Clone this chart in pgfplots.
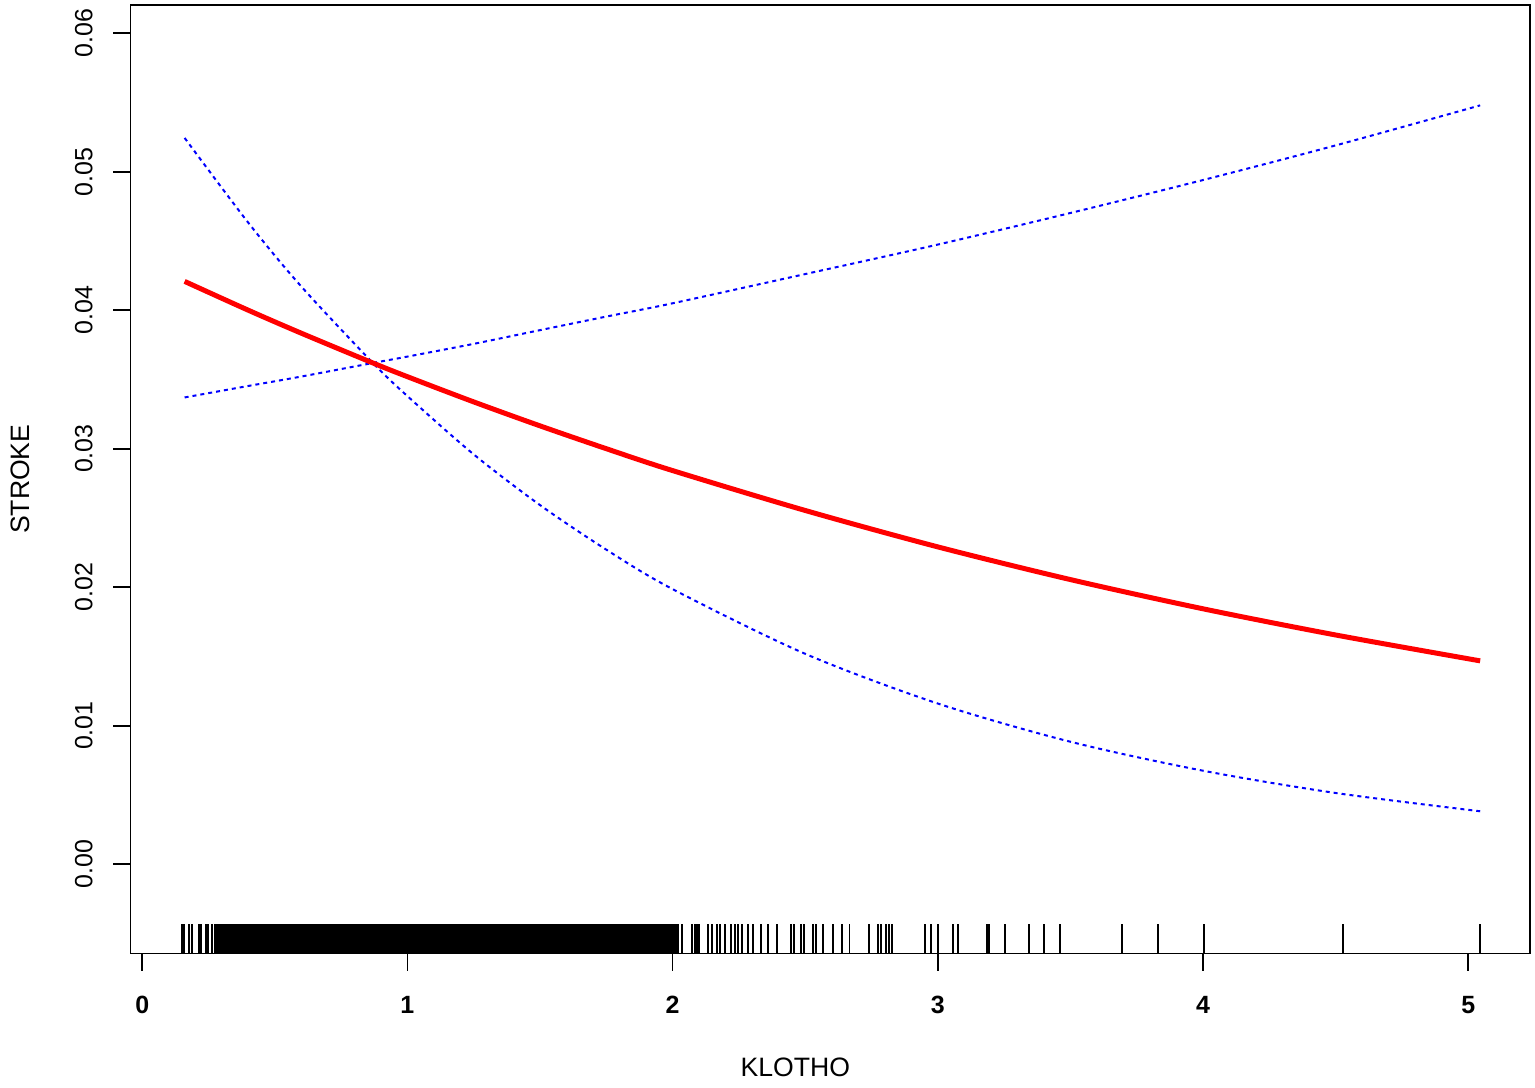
\documentclass[border=0pt]{standalone}
\usepackage{fontspec}
\setmainfont{Liberation Sans}
\usepackage{pgfplots}
\usepackage{pgfplotstable}
\pgfplotsset{compat=1.18}
\usetikzlibrary{calc}

% fitted risk and the two dotted confidence bounds
\pgfplotstableread{
x     fit      rise     fall
0.16  0.04208  0.03370  0.05244
0.40  0.04000  0.03453  0.04632
0.60  0.03834  0.03521  0.04171
0.87  0.03619  0.03619  0.03619
1.00  0.03520  0.03665  0.03380
1.25  0.03338  0.03757  0.02959
1.50  0.03165  0.03856  0.02593
1.75  0.03000  0.03954  0.02271
2.00  0.02842  0.04050  0.01986
2.50  0.02554  0.04261  0.01519
3.00  0.02291  0.04474  0.01160
3.50  0.02055  0.04702  0.00884
4.00  0.01844  0.04940  0.00675
4.50  0.01655  0.05190  0.00514
5.045 0.01468  0.05479  0.00382
}\curves

% rug: single observations outside the dense band
\pgfplotstableread{
x      y
0.151 -0.0054
0.158 -0.0054
0.177 -0.0054
0.188 -0.0054
0.215 -0.0054
0.222 -0.0054
0.241 -0.0054
0.249 -0.0054
0.264 -0.0054
2.021 -0.0054
2.034 -0.0054
2.072 -0.0054
2.083 -0.0054
2.092 -0.0054
2.100 -0.0054
2.134 -0.0054
2.147 -0.0054
2.166 -0.0054
2.180 -0.0054
2.196 -0.0054
2.222 -0.0054
2.234 -0.0054
2.247 -0.0054
2.260 -0.0054
2.286 -0.0054
2.305 -0.0054
2.335 -0.0054
2.360 -0.0054
2.392 -0.0054
2.445 -0.0054
2.458 -0.0054
2.486 -0.0054
2.497 -0.0054
2.531 -0.0054
2.542 -0.0054
2.568 -0.0054
2.605 -0.0054
2.637 -0.0054
2.667 -0.0054
2.742 -0.0054
2.775 -0.0054
2.787 -0.0054
2.806 -0.0054
2.817 -0.0054
2.827 -0.0054
2.950 -0.0054
2.975 -0.0054
3.000 -0.0054
3.057 -0.0054
3.076 -0.0054
3.187 -0.0054
3.193 -0.0054
3.252 -0.0054
3.343 -0.0054
3.402 -0.0054
3.461 -0.0054
3.695 -0.0054
3.829 -0.0054
4.005 -0.0054
4.526 -0.0054
5.045 -0.0054
}\rug

\begin{document}
\begin{tikzpicture}
\begin{axis}[
  name=ax, scale only axis, width=420.5pt, height=285pt,
  xmin=-0.044, xmax=5.233, ymin=-0.00645, ymax=0.06204,
  axis line style={line width=0.5pt},
  xtick={0,1,2,3,4,5}, ytick={0,0.01,0.02,0.03,0.04,0.05,0.06},
  xtick pos=bottom, ytick pos=left, tick align=outside,
  major tick length=5.2pt, tick style={line width=0.5pt,black},
  scaled y ticks=false,
  /pgf/number format/assume math mode=true,
  xticklabel style={yshift=-7.4pt, inner sep=0pt, anchor=north,
    font=\bfseries\fontsize{7.5}{9}\selectfont},
  yticklabel style={xshift=-6pt, rotate=90, anchor=south, inner sep=0pt,
    font=\fontsize{7.5}{9}\selectfont,
    /pgf/number format/fixed, /pgf/number format/fixed zerofill,
    /pgf/number format/precision=2},
  xlabel={KLOTHO},
  xlabel style={at={($(axis description cs:0.475,0)+(0,-36.9pt)$)}, anchor=base,
    font=\fontsize{8}{10}\selectfont},
  ylabel={STROKE},
  ylabel style={at={($(axis description cs:0,0.5)+(-30.3pt,0)$)}, anchor=base,
    font=\fontsize{8}{10}\selectfont},
]
\addplot[fill=black, draw=none] coordinates {(0.271,-0.00645) (2.015,-0.00645) (2.015,-0.00434) (0.271,-0.00434)} -- cycle;
\addplot[only marks, mark=|, mark size=4.4pt, mark options={line width=0.6pt, black}] table[x=x,y=y] \rug;
\addplot[blue, line width=0.6pt, dash pattern=on 1.2pt off 1.2pt, smooth] table[x=x,y=rise] \curves;
\addplot[blue, line width=0.6pt, dash pattern=on 1.2pt off 1.2pt, smooth] table[x=x,y=fall] \curves;
\addplot[red, line width=1.5pt, smooth] table[x=x,y=fit] \curves;
\end{axis}
\path ($(ax.south west)+(-38.5pt,-38.4pt)$) rectangle ($(ax.north east)+(1.5pt,1.5pt)$);
\end{tikzpicture}
\end{document}
